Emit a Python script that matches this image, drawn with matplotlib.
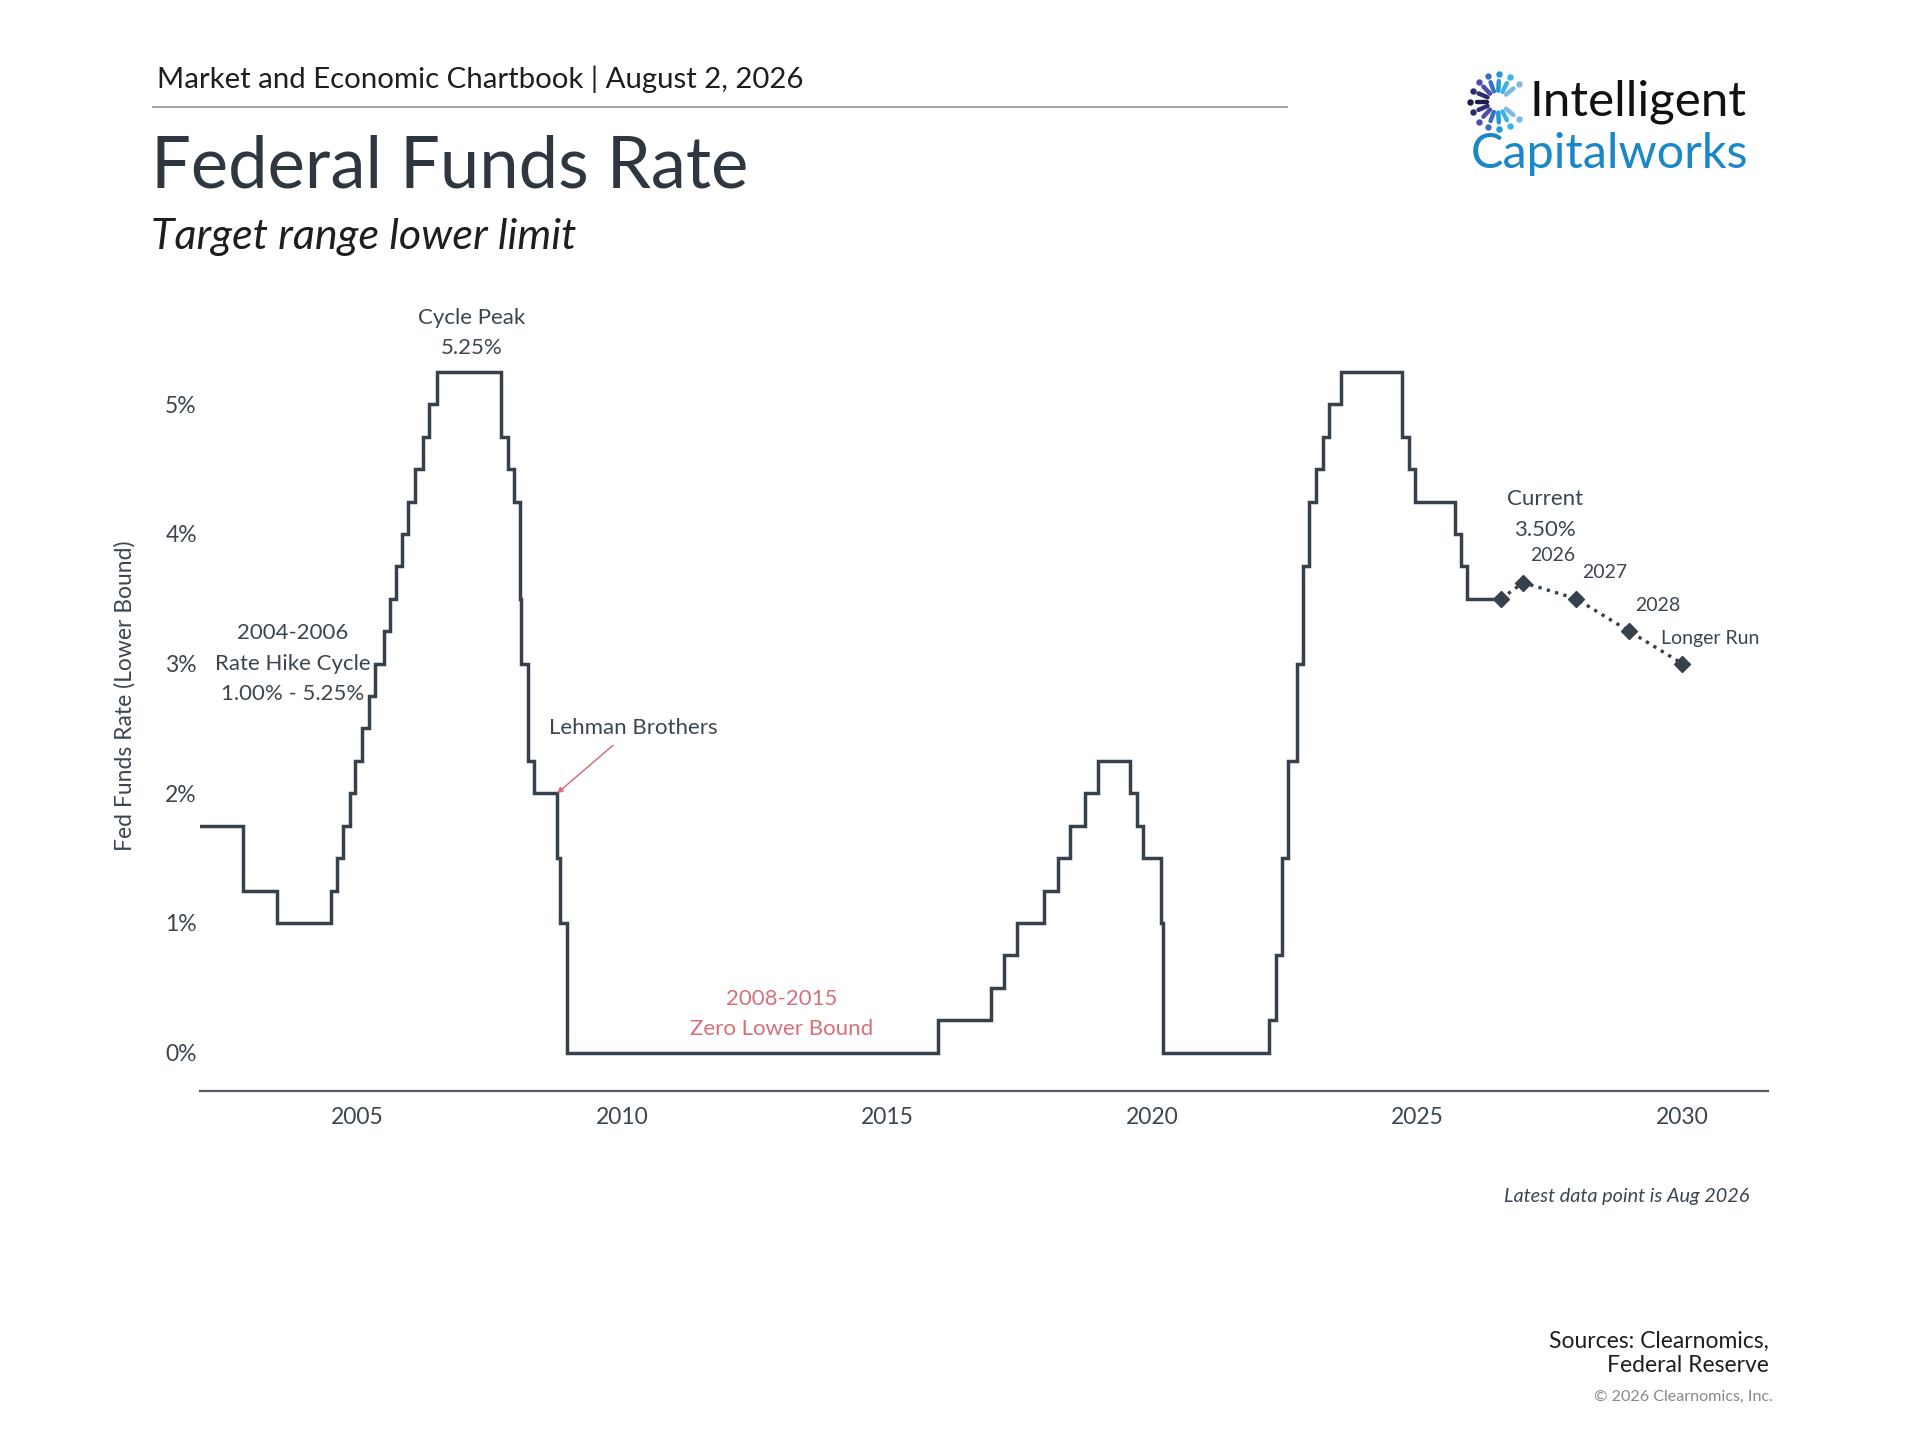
import matplotlib
matplotlib.use("Agg")
import matplotlib.pyplot as plt
import numpy as np
import pandas as pd

# --- data -------------------------------------------------------------
# dates where the target range lower bound changed, and the new value (%)
change_dates = [
    "2002-01-01", "2002-11-06", "2003-06-25",
    "2004-06-30", "2004-08-10", "2004-09-21", "2004-11-10", "2004-12-14",
    "2005-02-02", "2005-03-22", "2005-05-03", "2005-06-30", "2005-08-09",
    "2005-09-20", "2005-11-01", "2005-12-13", "2006-01-31", "2006-03-28",
    "2006-05-10", "2006-06-29",
    "2007-09-18", "2007-10-31", "2007-12-11", "2008-01-22", "2008-01-30",
    "2008-03-18", "2008-04-30", "2008-10-08", "2008-10-29", "2008-12-16",
    "2015-12-16", "2016-12-14", "2017-03-15", "2017-06-14", "2017-12-13",
    "2018-03-21", "2018-06-13", "2018-09-26", "2018-12-19",
    "2019-07-31", "2019-09-18", "2019-10-30", "2020-03-03", "2020-03-15",
    "2022-03-16", "2022-05-04", "2022-06-15", "2022-07-27", "2022-09-21",
    "2022-11-02", "2022-12-14", "2023-02-01", "2023-03-22", "2023-05-03",
    "2023-07-26",
    "2024-09-18", "2024-11-07", "2024-12-18",
    "2025-09-17", "2025-10-29", "2025-12-10",
    "2026-08-01",
]
rates = [
    1.75, 1.25, 1.00,
    1.25, 1.50, 1.75, 2.00, 2.25,
    2.50, 2.75, 3.00, 3.25, 3.50,
    3.75, 4.00, 4.25, 4.50, 4.75,
    5.00, 5.25,
    4.75, 4.50, 4.25, 3.50, 3.00,
    2.25, 2.00, 1.50, 1.00, 0.00,
    0.25, 0.50, 0.75, 1.00, 1.25,
    1.50, 1.75, 2.00, 2.25,
    2.00, 1.75, 1.50, 1.00, 0.00,
    0.25, 0.75, 1.50, 2.25, 3.00,
    3.75, 4.25, 4.50, 4.75, 5.00,
    5.25,
    4.75, 4.50, 4.25,
    4.00, 3.75, 3.50,
    3.50,
]

# projections: current, year-end 2026/2027/2028, longer run
proj_dates = ["2026-08-01", "2026-12-31", "2027-12-31", "2028-12-31", "2030-01-01"]
proj_rates = [3.50, 3.625, 3.50, 3.25, 3.00]
proj_labels = ["", "2026", "2027", "2028", "Longer Run"]

lehman_date = "2008-10-07"
lehman_rate = 2.0

year_ticks = [2005, 2010, 2015, 2020, 2025, 2030]
pct_ticks = [0, 1, 2, 3, 4, 5]


def to_year(d):
    t = pd.Timestamp(d)
    start = pd.Timestamp(year=t.year, month=1, day=1)
    end = pd.Timestamp(year=t.year + 1, month=1, day=1)
    return t.year + (t - start) / (end - start)


hist_x = [to_year(d) for d in change_dates]
proj_x = [to_year(d) for d in proj_dates]

# --- style --------------------------------------------------------------
plt.rcParams['font.family'] = ['Lato', 'DejaVu Sans']
dark = '#36414c'
text_c = '#3b4651'
red = '#d6707a'

fig = plt.figure(figsize=(19.2, 14.4), dpi=100)
ax = fig.add_axes([0.1040, 0.2426, 0.8169, 0.5217])

ax.step(hist_x, rates, where='post', color=dark, lw=2.5, solid_joinstyle='miter')
ax.plot(proj_x, proj_rates, color=dark, lw=2.4, ls=(0, (1, 1.6)),
        marker='D', ms=8.5, mfc=dark, mec=dark, zorder=3)

ax.set_xlim(2002.02, 2031.62)
ax.set_ylim(-0.293, 5.5)
ax.set_xticks(year_ticks)
ax.set_xticklabels([str(y) for y in year_ticks])
ax.set_yticks(pct_ticks)
ax.set_yticklabels([f"{p}%" for p in pct_ticks])
ax.tick_params(length=0, labelsize=16.5, colors=text_c)
ax.tick_params(axis='x', pad=12)
ax.tick_params(axis='y', pad=2)
for s in ['top', 'right', 'left']:
    ax.spines[s].set_visible(False)
ax.spines['bottom'].set_color('#555b60')
ax.spines['bottom'].set_linewidth(1.6)

# annotations
kw = dict(color=text_c, fontsize=16, ha='center', va='center', linespacing=1.65)
ax.text(2007.15, 5.55, "Cycle Peak\n5.25%", clip_on=False, **kw)
ax.text(2003.77, 3.0, "2004-2006\nRate Hike Cycle\n1.00% - 5.25%", **kw)
ax.text(2010.2, 2.5, "Lehman Brothers", **kw)
ax.annotate("", xy=(to_year(lehman_date), lehman_rate), xytext=(2009.82, 2.37),
            arrowprops=dict(arrowstyle='-|>', color=red, lw=1.1,
                            mutation_scale=8, shrinkA=0, shrinkB=0))
ax.text(2013.0, 0.30, "2008-2015\nZero Lower Bound", color=red, fontsize=16,
        ha='center', va='center', linespacing=1.65)
ax.text(2027.41, 4.15, "Current\n3.50%", **kw)
label_pos = [None, (2027.55, 3.83), (2028.54, 3.70), (2029.54, 3.45), (2030.53, 3.19)]
for lab, pos in zip(proj_labels, label_pos):
    if pos is None:
        continue
    ax.text(pos[0], pos[1], lab, color=text_c, fontsize=14, ha='center', va='center')

# --- header -------------------------------------------------------------
fig.text(0.0817, 0.9447, "Market and Economic Chartbook | August 2, 2026",
         fontsize=21.2, color='#1e1e1e', va='center')
fig.add_artist(plt.Line2D([0.0798, 0.6701], [0.926, 0.926], color='#8a8a8a', lw=1.1))
fig.text(0.0785, 0.8843, "Federal Funds Rate", fontsize=50.8, color='#2e3740', va='center')
fig.text(0.0785, 0.8357, "Target range lower limit", fontsize=31, style='italic',
         color='#1e1e1e', va='center')

# logo
fig.text(0.7964, 0.9294, "Intelligent", fontsize=35.6, color='#111111', va='center')
fig.text(0.7658, 0.8928, "Capitalworks", fontsize=35, color='#1a87c8', va='center')
lax = fig.add_axes([0.7635, 0.9074, 0.033, 0.044])
lax.set_xlim(-1.3, 1.3)
lax.set_ylim(-1.3, 1.3)
lax.set_aspect('equal')
lax.axis('off')
angles = np.linspace(40, 320, 13)
cols = ['#7fb8e6', '#39b4e6', '#1f9ad8', '#3a6fc4', '#4b4fa8', '#2b2d6e', '#1a1d4a',
        '#2b2d6e', '#4b4fa8', '#3a6fc4', '#1f9ad8', '#39b4e6', '#7fb8e6']
for a, c in zip(angles, cols):
    r = np.deg2rad(a)
    lax.plot([0.45 * np.cos(r), 0.85 * np.cos(r)], [0.45 * np.sin(r), 0.85 * np.sin(r)],
             color=c, lw=3.2, solid_capstyle='round')
    lax.plot(1.12 * np.cos(r), 1.12 * np.sin(r), 'o', color=c, ms=3.6)

# --- footer -------------------------------------------------------------
fig.text(0.0651, 0.5166, "Fed Funds Rate (Lower Bound)", rotation=90, fontsize=16.5,
         color=text_c, ha='center', va='center')
fig.text(0.9113, 0.1694, "Latest data point is Aug 2026", fontsize=14.3, style='italic',
         color=text_c, ha='right', va='center')
fig.text(0.9215, 0.060, "Sources: Clearnomics,\nFederal Reserve", fontsize=16.5,
         color='#1e1e1e', ha='right', va='center', linespacing=1.2)
fig.text(0.9234, 0.0298, "\u00a9 2026 Clearnomics, Inc.", fontsize=11.6,
         color='#888888', ha='right', va='center')

fig.savefig("out.png", dpi=100, facecolor='white')
